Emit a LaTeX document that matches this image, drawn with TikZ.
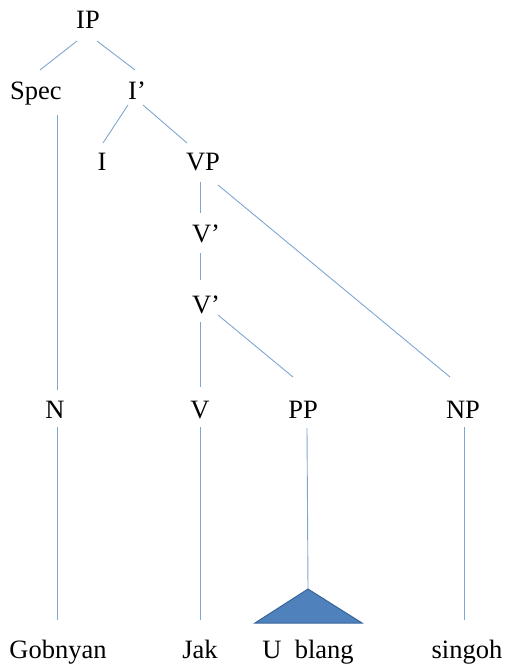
\documentclass[tikz,border=0pt]{standalone}
\usepackage{fontspec}
\setmainfont{Liberation Serif}
\definecolor{edgeblue}{HTML}{7EA6D2}
\definecolor{trifill}{HTML}{4F81BD}
\definecolor{triline}{HTML}{3A659A}
\begin{document}
\begin{tikzpicture}[x=1bp,y=-1bp,
  lab/.style={anchor=base,inner sep=0pt,font=\fontsize{26.5bp}{30bp}\selectfont},
  edge/.style={draw=edgeblue,line width=0.9bp}]
\useasboundingbox (0,0) rectangle (511,672);
\node[lab] (IP) at (88,29) {IP};
\node[lab] (Spec) at (36,100) {Spec};
\node[lab] (Ib) at (137,100) {I’};
\node[lab] (I) at (102,170) {I};
\node[lab] (VP) at (203,170) {VP};
\node[lab] (Va) at (206,242) {V’};
\node[lab] (Vb) at (206,313) {V’};
\node[lab] (N) at (55,418) {N};
\node[lab] (V) at (200,418) {V};
\node[lab] (PP) at (303,418) {PP};
\node[lab] (NP) at (463,418) {NP};
\node[lab] (Gob) at (58,658) {Gobnyan};
\node[lab] (Jak) at (200,658) {Jak};
\node[lab] (Ub) at (308,658) {U~~blang};
\node[lab] (sing) at (467,658) {singoh};
\coordinate (apex) at (308,589);
% triangle
\draw[fill=trifill,draw=triline,line width=1bp,line join=miter] (apex) -- (362,623) -- (255,623) -- cycle;
% connectors
\draw[edge] ([shift={(-11,12)}]IP.base) -- ([shift={(4,-30)}]Spec.base);
\draw[edge] ([shift={(9,12)}]IP.base) -- ([shift={(-2,-30)}]Ib.base);
\draw[edge] ([shift={(21,15)}]Spec.base) -- ([shift={(2,-28)}]N.base);
\draw[edge] ([shift={(-9,5)}]Ib.base) -- ([shift={(1,-27)}]I.base);
\draw[edge] ([shift={(6,5)}]Ib.base) -- ([shift={(-16,-27)}]VP.base);
\draw[edge] ([shift={(-3,12)}]VP.base) -- ([shift={(-6,-29)}]Va.base);
\draw[edge] ([shift={(15,15)}]VP.base) -- ([shift={(-13,-41)}]NP.base);
\draw[edge] ([shift={(-6,11)}]Va.base) -- ([shift={(-6,-33)}]Vb.base);
\draw[edge] ([shift={(-6,9)}]Vb.base) -- ([shift={(0,-31)}]V.base);
\draw[edge] ([shift={(12,2)}]Vb.base) -- ([shift={(-10,-41)}]PP.base);
\draw[edge] ([shift={(2,9)}]N.base) -- ([shift={(-1,-38)}]Gob.base);
\draw[edge] ([shift={(0,9)}]V.base) -- ([shift={(0,-38)}]Jak.base);
\draw[edge] ([shift={(4,10)}]PP.base) -- (apex);
\draw[edge] ([shift={(1,9)}]NP.base) -- ([shift={(-3,-38)}]sing.base);
\end{tikzpicture}
\end{document}
